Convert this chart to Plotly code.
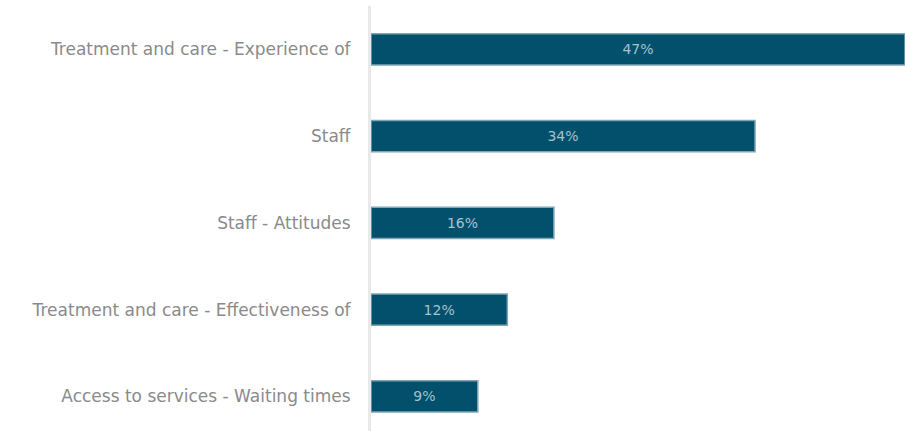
import plotly.graph_objects as go

categories = [
    "Treatment and care - Experience of",
    "Staff",
    "Staff - Attitudes",
    "Treatment and care - Effectiveness of",
    "Access to services - Waiting times",
]
values = [47.0, 33.8, 16.1, 12.0, 9.4]
labels = ["47%", "34%", "16%", "12%", "9%"]

fig = go.Figure(
    go.Bar(
        x=values,
        y=categories,
        orientation="h",
        text=labels,
        textposition="inside",
        insidetextanchor="middle",
        textfont=dict(family="DejaVu Sans", size=14, color="#a4c2cd"),
        marker=dict(color="#02506b", line=dict(color="#7fa6b6", width=1.5)),
        width=0.36,
        cliponaxis=True,
    )
)

fig.update_layout(
    width=905,
    height=431,
    margin=dict(l=371, r=0, t=6, b=0),
    paper_bgcolor="white",
    plot_bgcolor="white",
    showlegend=False,
    bargap=0.64,
    uniformtext=dict(minsize=14),
)
fig.update_xaxes(range=[0, 47], visible=False, showgrid=False, zeroline=False)
fig.update_yaxes(
    type="category",
    categoryorder="array",
    categoryarray=categories,
    range=[4.4, -0.5],
    showgrid=False,
    zeroline=False,
    showline=True,
    linecolor="#e9e9e9",
    linewidth=3,
    ticks="",
    ticklabelstandoff=14,
    tickfont=dict(family="DejaVu Sans", size=17, color="#8a8a8a"),
)

fig.write_html("out.html")
